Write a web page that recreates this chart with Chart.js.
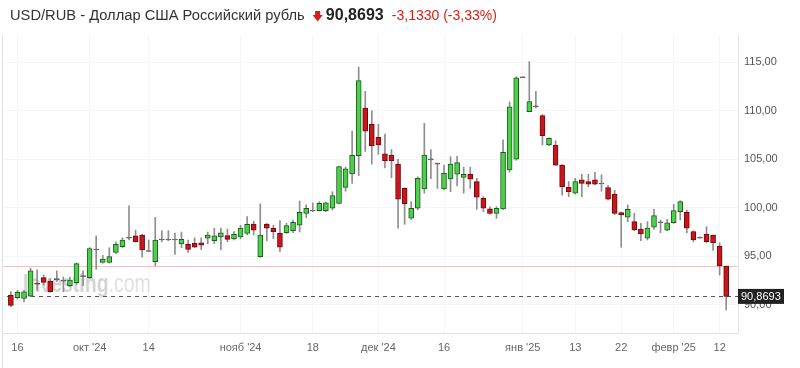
<!DOCTYPE html>
<html>
<head>
<meta charset="utf-8">
<script src="https://cdn.jsdelivr.net/npm/chart.js@4.4.1/dist/chart.umd.min.js"></script>
<style>
    body { margin: 0; background: #fff; font-family: "Liberation Sans", Arial, sans-serif; }
    #wrap { position: relative; width: 800px; height: 368px; }
    #title { position: absolute; left: 10px; top: 6px; font-size: 14.7px; color: #333; white-space: nowrap; }
    #title .arrow { color: #d91e18; font-size: 11px; margin: 0 3px 0 3px; }
    #title .last { font-weight: bold; font-size: 16px; color: #222; }
    #title .chg { color: #d91e18; font-size: 14px; margin-left: 4px; }
</style>
</head>
<body>
<div id="wrap">
    <canvas id="usdRubChart" width="800" height="368"></canvas>
    <div id="title">USD/RUB - Доллар США Российский рубль <span class="arrow">&#129095;</span><span class="last">90,8693</span> <span class="chg">-3,1330 (-3,33%)</span></div>
</div>
<script>
// OHLC per trading day, 13 Sep 2024 - 13 Feb 2025
const openP = [91.0, 90.73, 90.67, 90.9, 92.2, 92.8, 92.45, 92.6, 92.5, 91.97,
    92.28, 92.95, 92.8, 95.7, 94.38, 94.38, 95.41, 95.99, 96.9, 97.1,
    97.2, 95.55, 94.45, 96.7, 96.7, 96.7, 96.27, 96.24, 96.34, 96.4,
    96.86, 96.6, 97.0, 97.13, 96.78, 97.0, 97.37, 98.33, 94.96, 98.3,
    97.9, 97.37, 97.43, 97.64, 98.2, 99.43, 99.7, 99.7, 99.7, 99.95,
    100.46, 102.1, 103.5, 105.37, 110.26, 108.6, 107.27, 105.55, 105.44, 104.5,
    102.0, 98.92, 99.95, 101.94, 104.95, 104.55, 101.94, 102.97, 103.45, 103.14,
    103.45, 102.7, 100.98, 99.88, 99.43, 99.88, 103.9, 105.0, 113.4, 109.9,
    110.45, 109.5, 106.47, 106.47, 104.4, 102.1, 101.5, 102.87, 102.7, 102.87,
    102.5, 102.07, 101.4, 99.5, 99.02, 98.57, 97.8, 96.86, 97.99, 98.5,
    97.7, 98.46, 99.6, 99.54, 97.54, 96.9, 97.3, 97.2, 96.06, 94.0];
const highP = [91.35, 91.5, 91.5, 93.76, 93.6, 93.07, 92.7, 93.5, 92.87, 92.87,
    94.3, 93.5, 95.9, 97.1, 95.1, 95.89, 96.5, 96.9, 100.2, 97.7,
    97.3, 96.68, 99.0, 97.64, 97.64, 97.4, 97.5, 96.68, 96.9, 96.9,
    97.5, 97.9, 97.9, 97.8, 97.54, 98.2, 99.1, 98.6, 100.4, 98.4,
    98.2, 98.67, 98.4, 98.74, 100.7, 100.3, 100.5, 100.63, 100.6, 101.66,
    104.3, 104.2, 107.9, 114.5, 112.0, 110.0, 108.6, 107.6, 106.0, 105.0,
    102.05, 100.63, 103.2, 108.7, 106.0, 104.6, 104.4, 105.27, 105.3, 104.18,
    104.18, 103.04, 101.15, 100.1, 100.1, 107.0, 110.9, 113.5, 113.4, 115.06,
    112.0, 109.6, 107.2, 106.9, 104.45, 102.7, 103.04, 103.45, 103.45, 103.66,
    103.4, 102.28, 101.8, 99.55, 100.3, 99.43, 98.4, 98.57, 99.85, 98.74,
    98.8, 100.36, 100.73, 99.77, 97.64, 97.0, 98.05, 97.2, 96.4, 94.0];
const lowP = [89.8, 90.6, 90.3, 90.84, 91.5, 92.04, 91.3, 92.4, 91.35, 91.87,
    92.1, 91.97, 92.7, 93.66, 94.3, 94.3, 95.3, 95.9, 96.68, 96.45,
    94.9, 95.47, 94.0, 96.5, 96.6, 95.2, 95.9, 95.4, 95.9, 95.7,
    96.3, 96.3, 95.65, 96.5, 96.68, 96.8, 97.2, 97.2, 94.9, 96.6,
    96.8, 95.47, 97.35, 97.44, 97.5, 99.0, 99.6, 99.67, 99.6, 99.77,
    100.4, 101.7, 102.5, 103.3, 105.8, 104.5, 105.5, 104.1, 103.1, 97.9,
    98.3, 98.8, 99.8, 101.5, 103.0, 102.0, 101.83, 101.66, 102.25, 101.5,
    102.0, 99.85, 99.6, 99.33, 98.9, 99.8, 103.66, 104.9, 113.4, 109.9,
    110.3, 106.47, 106.4, 104.35, 101.3, 101.14, 101.4, 101.14, 102.17, 102.35,
    101.7, 100.8, 99.3, 95.93, 98.57, 97.64, 96.6, 96.68, 97.78, 97.43,
    97.64, 98.4, 98.74, 97.43, 96.5, 96.86, 96.4, 95.6, 93.07, 89.46];
const closeP = [89.95, 91.29, 91.35, 93.5, 92.14, 92.32, 91.35, 92.63, 92.45, 92.56,
    94.24, 92.9, 95.8, 95.65, 94.72, 94.96, 96.24, 96.68, 96.86, 96.5,
    95.65, 95.5, 96.68, 96.68, 96.68, 96.68, 96.75, 95.72, 95.93, 96.16,
    97.2, 97.1, 97.43, 96.75, 97.27, 97.9, 98.3, 97.7, 97.2, 97.9,
    97.54, 95.93, 98.16, 98.5, 99.54, 99.95, 99.67, 100.46, 100.5, 101.25,
    104.24, 104.0, 105.4, 113.1, 107.9, 106.4, 106.47, 104.86, 104.86, 100.9,
    100.4, 99.95, 103.04, 105.44, 104.93, 104.5, 103.56, 104.5, 104.65, 103.45,
    102.94, 101.1, 99.95, 99.43, 99.95, 105.72, 110.4, 113.4, 113.4, 110.94,
    110.4, 107.43, 107.16, 104.4, 102.17, 101.66, 102.7, 102.52, 102.42, 102.42,
    102.45, 100.9, 99.43, 99.26, 99.85, 97.71, 97.3, 97.9, 99.19, 98.46,
    98.46, 99.7, 100.63, 97.9, 96.68, 96.86, 96.5, 96.4, 94.0, 90.8693];

const tickIdx = [1, 12, 21, 35, 46, 56, 66, 78, 86, 93, 101, 108];
const tickText = ['16', "окт '24", '14', "нояб '24", '18', "дек '24", '16', "янв '25", '13', '22', "февр '25", '12'];
const yTicks = [90, 95, 100, 105, 110, 115];
const prevClose = 94.0023;
const lastPrice = 90.8693;

// trading day labels (weekdays from 13 Sep 2024)
const dates = [];
let d = new Date(2024, 8, 13);
while (dates.length < closeP.length) {
    if (d.getDay() !== 0 && d.getDay() !== 6) dates.push(d.toLocaleDateString('ru-RU'));
    d.setDate(d.getDate() + 1);
}

const bodyColor = [], bodyBorder = [];
closeP.forEach(function (c, i) {
    if (Math.abs(c - openP[i]) < 0.06) { bodyColor.push('#666'); bodyBorder.push('#555'); }
    else if (c > openP[i]) { bodyColor.push('#4cd04c'); bodyBorder.push('#1d5c1d'); }
    else { bodyColor.push('#c9151c'); bodyBorder.push('#6e0a0d'); }
});

const fmt = function (v, n) { return v.toFixed(n).replace('.', ','); };

const overlayPlugin = {
    id: 'overlay',
    beforeDatasetsDraw: function (chart) {
        const c = chart.ctx, a = chart.chartArea, y = chart.scales.y;
        c.save();
        // watermark (condensed)
        c.save();
        c.translate(23, 292);
        c.scale(0.75, 1);
        c.textBaseline = 'alphabetic';
        c.font = 'bold 26px "Liberation Sans", Arial';
        c.fillStyle = 'rgba(185,185,185,0.6)';
        c.fillText('Investing', 0, 0);
        const w = c.measureText('Investing').width;
        c.font = '26px "Liberation Sans", Arial';
        c.fillStyle = 'rgba(205,205,205,0.6)';
        c.fillText('.com', w, 0);
        c.restore();
        // previous close line
        c.strokeStyle = '#efc4c4';
        c.lineWidth = 1;
        const py = Math.round(y.getPixelForValue(prevClose)) + 0.5;
        c.beginPath(); c.moveTo(a.left, py); c.lineTo(a.right, py); c.stroke();
        // last price dashed line
        const ly = Math.round(y.getPixelForValue(lastPrice)) + 0.5;
        c.strokeStyle = '#555';
        c.setLineDash([4, 4]);
        c.beginPath(); c.moveTo(a.left + 4, ly); c.lineTo(a.right, ly); c.stroke();
        c.restore();
    },
    afterDraw: function (chart) {
        const c = chart.ctx, a = chart.chartArea, y = chart.scales.y;
        c.save();
        // left frame line
        c.strokeStyle = '#e2e2e2';
        c.beginPath(); c.moveTo(2.5, a.top); c.lineTo(2.5, 368); c.stroke();
        // last price label
        const ly = y.getPixelForValue(lastPrice);
        c.fillStyle = '#222';
        c.fillRect(a.right, ly - 7.5, 46, 15);
        c.fillStyle = '#fff';
        c.font = '11px "Liberation Sans", Arial';
        c.textBaseline = 'middle';
        c.fillText(fmt(lastPrice, 4), a.right + 3, ly + 0.5);
        c.restore();
    }
};

const ctx = document.getElementById('usdRubChart').getContext('2d');
const usdRubChart = new Chart(ctx, {
    type: 'bar',
    data: {
        datasets: [{
            label: 'body',
            data: openP.map(function (o, i) { return { x: i, y: [o, closeP[i]] }; }),
            backgroundColor: bodyColor,
            borderColor: bodyBorder,
            borderWidth: 1,
            borderSkipped: false,
            barThickness: 5,
            minBarLength: 1,
            grouped: false
        }, {
            label: 'wick',
            data: lowP.map(function (l, i) { return { x: i, y: [l, highP[i]] }; }),
            backgroundColor: '#8e8e8e',
            barThickness: 1,
            minBarLength: 1,
            grouped: false
        }]
    },
    options: {
        responsive: false,
        animation: false,
        layout: { padding: { top: 35, left: 3 } },
        plugins: { legend: { display: false }, tooltip: { enabled: false } },
        scales: {
            x: {
                type: 'linear',
                offset: false,
                min: -1.2,
                max: 110.8,
                afterBuildTicks: function (s) { s.ticks = tickIdx.map(function (v) { return { value: v }; }); },
                afterFit: function (s) { s.height = 35; },
                grid: { color: '#f6f6f6', drawTicks: false, offset: false },
                border: { color: '#e4e4e4' },
                ticks: {
                    padding: 8,
                    maxRotation: 0,
                    autoSkip: false,
                    color: '#666',
                    font: { size: 11, family: '"Liberation Sans", Arial' },
                    callback: function (v) { return tickText[tickIdx.indexOf(v)]; }
                }
            },
            y: {
                position: 'right',
                min: 87.1,
                max: 117.8,
                afterBuildTicks: function (s) { s.ticks = yTicks.map(function (v) { return { value: v }; }); },
                afterFit: function (s) { s.width = 62; },
                grid: { color: '#f6f6f6', drawTicks: false },
                border: { color: '#e4e4e4' },
                ticks: {
                    padding: 6,
                    color: '#555',
                    font: { size: 11, family: '"Liberation Sans", Arial' },
                    callback: function (v) { return fmt(v, 2); }
                }
            }
        }
    },
    plugins: [overlayPlugin]
});
</script>
</body>
</html>
